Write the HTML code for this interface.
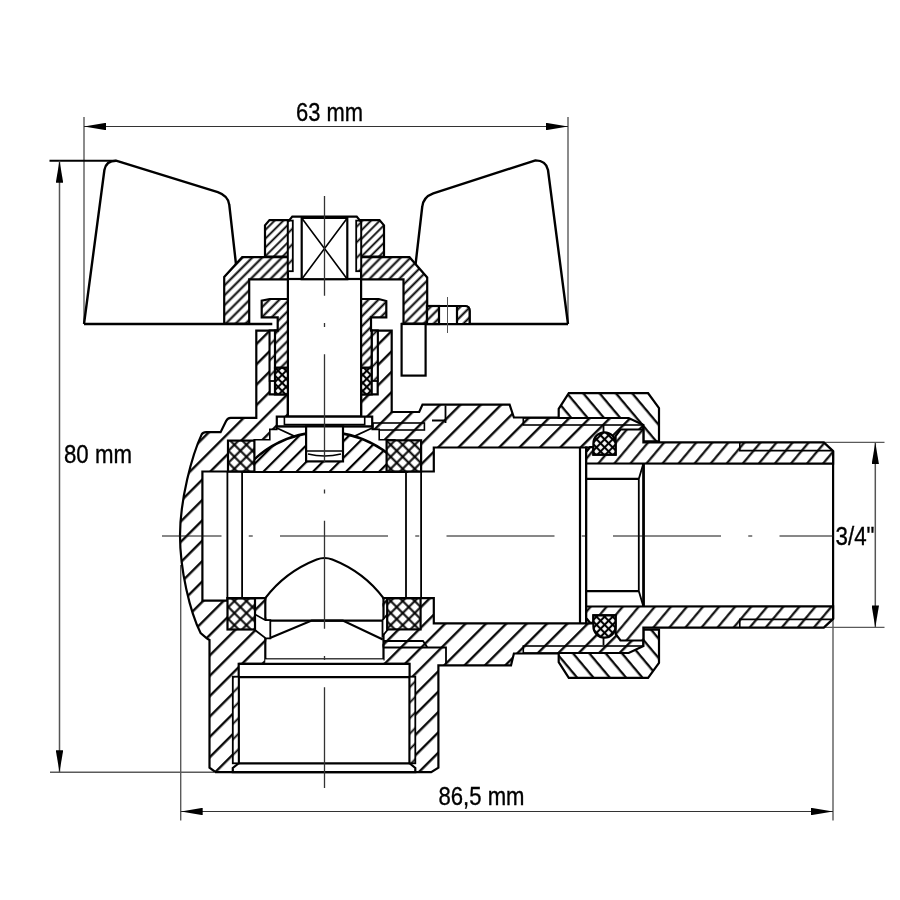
<!DOCTYPE html>
<html><head><meta charset="utf-8"><style>
html,body{margin:0;padding:0;background:#fff;width:900px;height:900px;overflow:hidden}
svg{display:block;filter:grayscale(100%)}
text{font-family:"Liberation Sans",sans-serif;fill:#000}
</style></head><body>
<svg width="900" height="900" viewBox="0 0 900 900">
<defs>
<pattern id="hBody" width="20" height="14.4" patternUnits="userSpaceOnUse" patternTransform="rotate(-45)"><rect width="20" height="14.4" fill="#fff"/><line x1="0" y1="7" x2="20" y2="7" stroke="#000" stroke-width="2.3"/></pattern>
<pattern id="hBon" width="20" height="7" patternUnits="userSpaceOnUse" patternTransform="rotate(-45)"><rect width="20" height="7" fill="#fff"/><line x1="0" y1="3.5" x2="20" y2="3.5" stroke="#000" stroke-width="2"/></pattern>
<pattern id="hNut" width="20" height="6.2" patternUnits="userSpaceOnUse" patternTransform="rotate(-45)"><rect width="20" height="6.2" fill="#fff"/><line x1="0" y1="3" x2="20" y2="3" stroke="#000" stroke-width="1.8"/></pattern>
<pattern id="hBall" width="20" height="11.7" patternUnits="userSpaceOnUse" patternTransform="rotate(-45)"><rect width="20" height="11.7" fill="#fff"/><line x1="0" y1="5" x2="20" y2="5" stroke="#000" stroke-width="2.2"/></pattern>
<pattern id="hUn" width="20" height="12.5" patternUnits="userSpaceOnUse" patternTransform="rotate(50)"><rect width="20" height="12.5" fill="#fff"/><line x1="0" y1="6" x2="20" y2="6" stroke="#000" stroke-width="2.2"/></pattern>
<pattern id="hTail" width="20" height="12.3" patternUnits="userSpaceOnUse" patternTransform="rotate(-50)"><rect width="20" height="12.3" fill="#fff"/><line x1="0" y1="6" x2="20" y2="6" stroke="#000" stroke-width="2.1"/></pattern>
<pattern id="hX" width="8.5" height="8.5" patternUnits="userSpaceOnUse" patternTransform="rotate(45)"><rect width="8.5" height="8.5" fill="#fff"/><line x1="0" y1="4.25" x2="8.5" y2="4.25" stroke="#000" stroke-width="2"/><line x1="4.25" y1="0" x2="4.25" y2="8.5" stroke="#000" stroke-width="2"/></pattern>
<pattern id="hXs" width="6" height="6" patternUnits="userSpaceOnUse" patternTransform="rotate(45)"><rect width="6" height="6" fill="#fff"/><line x1="0" y1="3" x2="6" y2="3" stroke="#000" stroke-width="1.4"/><line x1="3" y1="0" x2="3" y2="6" stroke="#000" stroke-width="1.4"/></pattern>
<pattern id="hXo" width="5.7" height="5.7" patternUnits="userSpaceOnUse" patternTransform="rotate(45)"><rect width="5.7" height="5.7" fill="#fff"/><line x1="0" y1="2.85" x2="5.7" y2="2.85" stroke="#000" stroke-width="2.1"/><line x1="2.85" y1="0" x2="2.85" y2="5.7" stroke="#000" stroke-width="2.1"/></pattern>
<pattern id="hThr" width="20" height="11" patternUnits="userSpaceOnUse" patternTransform="rotate(-45)"><rect width="20" height="11" fill="#fff"/><line x1="0" y1="5.5" x2="20" y2="5.5" stroke="#000" stroke-width="1.8"/></pattern>
<marker id="arr" viewBox="0 0 22 7.4" refX="22" refY="3.7" markerWidth="22" markerHeight="7.4" markerUnits="userSpaceOnUse" orient="auto-start-reverse"><path d="M0,0 L22,3.7 L0,7.4 Z" fill="#000"/></marker>
</defs>
<g fill="none">
<g stroke="#5a5a5a" stroke-width="1.4">
<line x1="84" y1="117" x2="84" y2="324"/>
<line x1="568" y1="117" x2="568" y2="324"/>
<line x1="50" y1="772.2" x2="214" y2="772.2"/>
<line x1="180.7" y1="565" x2="180.7" y2="820.5"/>
<line x1="833" y1="620" x2="833" y2="820.5"/>
<line x1="824" y1="442.4" x2="884.5" y2="442.4"/>
<line x1="824" y1="627.4" x2="884.5" y2="627.4"/>
</g>
<line x1="49.5" y1="160.7" x2="116" y2="160.7" stroke="#000" stroke-width="2"/>
<g stroke="#333" stroke-width="1">
<line x1="84" y1="126.5" x2="568" y2="126.5" marker-start="url(#arr)" marker-end="url(#arr)"/>
<line x1="59.5" y1="160.7" x2="59.5" y2="772.2" marker-start="url(#arr)" marker-end="url(#arr)" stroke="#555" stroke-width="1.5"/>
<line x1="180.7" y1="811.5" x2="833" y2="811.5" marker-start="url(#arr)" marker-end="url(#arr)"/>
<line x1="875.3" y1="442.4" x2="875.3" y2="627.4" marker-start="url(#arr)" marker-end="url(#arr)" stroke="#555" stroke-width="1.5"/>
</g></g>
<g font-size="25.5" stroke="#000" stroke-width="0.35">
<text x="296" y="121" textLength="67" lengthAdjust="spacingAndGlyphs">63 mm</text>
<text x="64" y="463.4" textLength="68" lengthAdjust="spacingAndGlyphs">80 mm</text>
<text x="438.5" y="805.2" textLength="86" lengthAdjust="spacingAndGlyphs">86,5 mm</text>
<text x="835.5" y="544.6" textLength="39" lengthAdjust="spacingAndGlyphs">3/4"</text>
</g>
<g fill="#fff" stroke="#000" stroke-width="2.4" stroke-linejoin="round">
<path d="M84,324 L104.4,170 Q106,160.7 116,160.7 L217.8,192.2 Q228.5,196 229.3,205 L236.2,266"/>
<path d="M568,324 L548,170 Q546,160.4 535.5,160.4 L433.3,193.3 Q423,197 422.2,207 L415.6,264"/>
<path fill="none" d="M84,324 L272.3,324 M401,324 L568,324"/>
</g>
<g stroke="#000" stroke-width="2.2" stroke-linejoin="miter">
<path fill="url(#hBody)" d="M256.3,330.7 L391.7,330.7 L391.7,412 L419.2,412 L422.5,404.6 L509.6,404.6 L513.9,417.5 L643.4,417.5 L643.4,653.5 L513.9,653.5 L511,665.3 L438.4,665.3 L438.4,767.7 L431.2,772.2 L215.6,772.2 L209.5,767.7 L209.5,640 L206.8,638.4 L200.6,633.1 C190,612 180,570 180,535.5 C180,500 192,455 201.7,434.4 Q203,432.2 206.1,432.2 L220.6,432.2 L226.1,421.1 Q227.5,417.8 230.6,417.8 L256.3,417.8 Z"/>
<path fill="#fff" d="M269.7,330.7 L377.7,330.7 L377.7,394.4 L361.1,394.4 L361.1,416 L287.9,416 L287.9,394.4 L269.7,394.4 Z"/>
<path fill="none" stroke-width="1.8" d="M445.5,405.5 L445.5,423 M432,420.5 L445.5,420.5"/>
<rect x="373" y="423" width="51.4" height="7" fill="none" stroke-width="1.6"/>
<rect x="523.3" y="418" width="120" height="7" fill="none" stroke-width="1.6"/>
<rect x="523.3" y="646" width="120" height="7" fill="none" stroke-width="1.6"/>
<path fill="#fff" d="M202.4,471.5 L433.8,471.5 L433.8,447.5 L586.2,447.5 L586.2,623.4 L433.8,623.4 L433.8,598.2 L227.4,598.2 L227.4,600.6 L202.4,600.6 Z"/>
<line x1="580" y1="447.5" x2="580" y2="623.4"/>
<path fill="#fff" d="M238.7,663.8 L409.6,663.8 L409.6,763.3 L415.3,768 L415.3,772.2 L232.8,772.2 L232.8,768 L238.7,763.3 Z"/>
<line x1="238.7" y1="763.3" x2="409.6" y2="763.3"/>
<rect x="232.8" y="676.7" width="5.9" height="86.6" fill="url(#hThr)" stroke-width="1.8"/>
<rect x="409.6" y="676.7" width="5.7" height="86.6" fill="url(#hThr)" stroke-width="1.8"/>
<line x1="238.7" y1="677.2" x2="409.6" y2="677.2"/>
<g stroke-width="1.8">
<line x1="227.4" y1="471.5" x2="227.4" y2="598.2"/>
<line x1="242.1" y1="471.5" x2="242.1" y2="598.2"/>
<line x1="406" y1="471.5" x2="406" y2="598.2"/>
<line x1="421.1" y1="471.5" x2="421.1" y2="598.2"/>
</g>
<path fill="url(#hBall)" d="M242.7,472 A104,104 0 0 1 406.3,472 Z"/>
<path fill="#fff" d="M254.2,439.7 L269.8,439.7 L269.8,429.4 L276.8,429.4 L276.8,426.4 L306.1,426.4 L306.1,433.1 A104,104 0 0 0 254.2,458.9 Z" stroke-width="1.6"/>
<path fill="#fff" d="M394.8,439.7 L379.2,439.7 L379.2,429.4 L372.2,429.4 L372.2,426.4 L342.9,426.4 L342.9,433.1 A104,104 0 0 1 394.8,458.9 Z" stroke-width="1.6"/>
<path fill="none" stroke-width="1.8" d="M276.8,428 L294.7,436.4 L306.1,433.5 M372.2,428 L354.3,436.4 L343,433.5"/>
<rect x="266.4" y="595" width="116" height="64" fill="#fff" stroke="none"/>
<path fill="none" d="M265.3,597.2 L265.3,659.4 L383.5,659.4 L383.5,597.2"/>
<line x1="266" y1="620.6" x2="383" y2="620.6"/>
<rect x="265.3" y="659.4" width="118.2" height="4.4" fill="#fff" stroke="none"/>
<line x1="238.7" y1="663.8" x2="409.6" y2="663.8"/>
<path fill="none" d="M269.4,638.3 L311.7,620.6 L342.8,620.6 L382.8,639.4"/>
<path fill="#fff" stroke-width="1.8" d="M254.3,614 L265.4,620.2 L270.3,620.2 L270.3,638.4 L265.9,638.4 L254.3,629.5 Z"/>
<path fill="#fff" stroke-width="1.8" d="M387.5,614 L382.5,620.2 L382.5,636 L387.5,630 Z"/>
<path fill="none" stroke-width="1.8" d="M383,641 L423,641 L427.5,647.5 L446,647.5 L446,664 M383,647.5 L427.5,647.5"/>
<rect x="228" y="440.6" width="26.4" height="30.9" fill="url(#hX)"/>
<rect x="386.6" y="440.3" width="34.5" height="31.2" fill="url(#hX)"/>
<rect x="227.5" y="598.5" width="27.5" height="31" fill="url(#hX)"/>
<rect x="387.2" y="598.3" width="33.4" height="31.1" fill="url(#hX)"/>
<path fill="none" d="M265.3,598.2 Q285,572 316.7,559.5 Q324.5,556.5 332.3,559.5 Q364,572 383.5,598.2"/>
<rect x="287.9" y="279" width="73.2" height="137.6" fill="#fff"/>
<path fill="#fff" d="M276.8,416.6 L372.2,416.6 L372.2,426.4 L276.8,426.4 Z"/>
<path fill="none" stroke-width="1.6" d="M284.4,416.6 L284.4,424.6 L364.7,424.6 L364.7,416.6"/>
<rect x="306.1" y="426.4" width="36.9" height="35" fill="#fff"/>
<line x1="306.1" y1="451" x2="343" y2="451" stroke-width="1.5"/>
<path fill="none" stroke-width="1.5" d="M308,454 Q324.5,458 341,454"/>
<rect x="269.7" y="330.7" width="5.3" height="50.3" fill="url(#hThr)" stroke-width="1.8"/>
<path fill="url(#hBon)" d="M261.7,317.3 L261.7,300.7 L269.7,299 L287.9,299 L287.9,367.8 L275,367.8 L275,330.7 L277.7,330.7 L277.7,317.3 Z"/>
<rect x="275" y="367.8" width="12.9" height="26.6" fill="url(#hXo)"/>
<path fill="url(#hBon)" d="M224.2,323.7 224.2,277 242.2,257.2 287.9,257.2 287.9,279.3 249.2,279.3 249.2,323.7 Z"/>
<path fill="url(#hNut)" d="M265,256.6 265,225.4 269.5,220.1 287.9,220.1 287.9,256.6 Z"/>
<rect x="287.9" y="220.6" width="4.9" height="50.6" fill="url(#hThr)" stroke-width="1.8"/>
<rect x="371.7" y="330.7" width="6" height="50.3" fill="url(#hThr)" stroke-width="1.8"/>
<path fill="url(#hBon)" d="M386.3,317.3 L386.3,301 L378.7,299 L361.1,299 L361.1,367.8 L371.7,367.8 L371.7,330.7 L371,330.7 L371,317.3 Z"/>
<rect x="361.1" y="367.8" width="10.6" height="26.6" fill="url(#hXo)"/>
<path fill="url(#hBon)" d="M427.2,323.7 L427.2,277.5 L409.5,257.2 L361.1,257.2 L361.1,279.3 L403.5,279.3 L403.5,323.7 Z"/>
<path fill="url(#hNut)" d="M384.0,256.6 384.0,225.4 379.5,220.1 361.1,220.1 361.1,256.6 Z"/>
<rect x="356.2" y="220.6" width="4.9" height="50.6" fill="url(#hThr)" stroke-width="1.8"/>
<path fill="none" d="M287.9,221.9 L292.3,216.6 L356.7,216.6 L361.1,221.9"/>
<rect x="301.7" y="217.9" width="45.6" height="61.3" fill="#fff"/>
<path fill="none" stroke-width="1.6" d="M301.7,217.9 L347.3,279.2 M347.3,217.9 L301.7,279.2"/>
<rect x="401.6" y="324" width="24" height="51.6" fill="#fff"/>
<path fill="#fff" d="M427,324 L427,306 L465,306 Q469.6,306 469.6,311 L469.6,324 Z"/>
<rect x="427" y="306" width="12" height="18" fill="url(#hBon)"/>
<path fill="url(#hBon)" d="M457,324 L457,306 L465,306 Q469.6,306 469.6,311 L469.6,324 Z"/>
<path fill="url(#hUn)" d="M558.7,418 558.7,408.8 568.8,393.2 648.1,393.2 659,408 659,441.4 643.4,441.4 643.4,425 628.7,418 Z"/>
<path fill="url(#hUn)" d="M558.7,653 558.7,662.2 568.8,677.8 648.1,677.8 659,663 659,629.6 643.4,629.6 643.4,646 628.7,653 Z"/>
<rect x="586.2" y="447.5" width="57.2" height="175.9" fill="#fff"/>
<path fill="url(#hTail)" d="M586.2,463.5 L586.2,452 L590,447.2 L593.4,447.2 L593.4,454.6 L615.6,454.6 L615.6,436 L620.5,429.5 L643.4,429.5 L643.4,442.4 L823.8,442.4 L833.1,451.1 L833.1,463.6 Z"/>
<path fill="url(#hTail)" d="M586.2,606.5 L586.2,618 L590,622.8 L593.4,622.8 L593.4,615.4 L615.6,615.4 L615.6,634 L620.5,640.5 L643.4,640.5 L643.4,627.6 L823.8,627.6 L833.1,618.9 L833.1,606.4 Z"/>
<path fill="none" stroke-width="1.8" d="M603.5,425 L603.5,433 M603.5,645 L603.5,637"/>
<line x1="586.2" y1="478.9" x2="638.8" y2="478.9"/>
<line x1="586.2" y1="591.1" x2="638.8" y2="591.1"/>
<line x1="643.6" y1="463.6" x2="643.6" y2="606.4"/>
<path fill="none" stroke-width="1.8" d="M643.4,463.6 L638.8,478.9 L638.8,591.1 L643.4,606.4"/>
<path fill="none" stroke-width="1.6" d="M739.8,442.4 L739.8,450.6 L833,450.6 M739.8,627.6 L739.8,619.4 L833,619.4"/>
<line x1="833.1" y1="451" x2="833.1" y2="619"/>
<path fill="url(#hXo)" d="M593.4,454.6 L593.4,443.4 A11.1,11.1 0 0 1 615.6,443.4 L615.6,454.6 Z"/>
<path fill="url(#hXo)" d="M593.4,615.4 L593.4,626.6 A11.1,11.1 0 0 0 615.6,626.6 L615.6,615.4 Z"/>
</g>
<g fill="none" stroke-dasharray="108 27.25 4 27.25">
<line x1="162" y1="536" x2="834" y2="536" stroke="#111" stroke-width="1" stroke-dashoffset="48.5"/>
<line x1="324.5" y1="196" x2="324.5" y2="788" stroke="#333" stroke-width="1.3" stroke-dashoffset="8.3"/>
</g>
<line x1="447.5" y1="297" x2="447.5" y2="333" stroke="#555" stroke-width="1"/>
</svg>
</body></html>
